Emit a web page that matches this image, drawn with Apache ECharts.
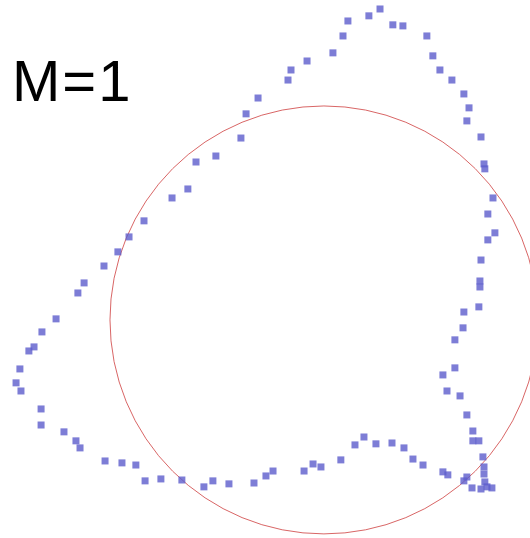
<!DOCTYPE html>
<html>
<head>
<meta charset="utf-8">
<style>
  html, body { margin: 0; padding: 0; background: #ffffff; }
  #chart { width: 530px; height: 538px; }
</style>
<script src="https://cdn.jsdelivr.net/npm/echarts@6/dist/echarts.min.js"></script>
</head>
<body>
<div id="chart"></div>
<script>
// Sampled points of the M=1 curve, in units of the reference circle's radius.
const pointX = [
  -1.416, -1.439, -1.421, -1.379, -1.355, -1.318, -1.252, -1.150, -1.121, -1.028,
  -0.963, -0.911, -0.841, -0.710, -0.636, -0.598, -0.505, -0.388, -0.364, -0.308,
  -0.168, -0.154, -0.079, 0.042, 0.089, 0.112, 0.210, 0.262, 0.322, 0.369,
  0.481, 0.509, 0.542, 0.598, 0.654, 0.678, 0.668, 0.734, 0.748, 0.752,
  0.790, 0.766, 0.799, 0.766, 0.734, 0.729, 0.729, 0.724, 0.654, 0.650,
  0.612, 0.612, 0.556, 0.575, 0.636, 0.668, 0.696, 0.696, 0.724, 0.743,
  0.748, 0.748, 0.752, 0.762, 0.785, 0.734, 0.692, 0.654, 0.668, 0.579,
  0.556, 0.463, 0.416, 0.374, 0.318, 0.243, 0.187, 0.145, 0.079, -0.014,
  -0.051, -0.093, -0.238, -0.271, -0.327, -0.444, -0.519, -0.561, -0.664, -0.762,
  -0.836, -0.879, -0.944, -1.023, -1.140, -1.159, -1.215, -1.322, -1.322
];
const pointY = [
  -0.332, -0.294, -0.229, -0.145, -0.126, -0.056, 0.005, 0.126, 0.173, 0.252,
  0.318, 0.388, 0.463, 0.570, 0.612, 0.738, 0.766, 0.850, 0.963, 1.037,
  1.121, 1.168, 1.210, 1.248, 1.327, 1.397, 1.421, 1.453, 1.379, 1.374,
  1.327, 1.234, 1.168, 1.121, 1.056, 0.991, 0.930, 0.855, 0.729, 0.706,
  0.570, 0.495, 0.407, 0.374, 0.280, 0.182, 0.154, 0.061, 0.037, -0.037,
  -0.093, -0.224, -0.257, -0.332, -0.355, -0.444, -0.519, -0.565, -0.565, -0.640,
  -0.687, -0.720, -0.757, -0.780, -0.785, -0.790, -0.785, -0.752, -0.734, -0.724,
  -0.710, -0.678, -0.650, -0.598, -0.575, -0.579, -0.547, -0.584, -0.654, -0.687,
  -0.673, -0.706, -0.706, -0.729, -0.762, -0.766, -0.752, -0.780, -0.748, -0.743,
  -0.752, -0.678, -0.668, -0.659, -0.598, -0.565, -0.523, -0.491, -0.416
];

// Reference circle: centre and radius
const circleCenter = [0, 0];
const circleRadius = 1;

// Visible window of the plane
const xRange = [-1.514, 0.963];
const yRange = [-1.019, 1.495];

const titleParts = ['M', '=', '1'];

const points = pointX.map((x, i) => [x, pointY[i]]);

const chart = echarts.init(document.getElementById('chart'), null, { renderer: 'canvas' });

const titleFont = '58px "Liberation Sans", Arial, sans-serif';

chart.setOption({
  animation: false,
  backgroundColor: '#ffffff',
  grid: { left: 0, right: 0, top: 0, bottom: 0, containLabel: false },
  xAxis: {
    type: 'value', min: xRange[0], max: xRange[1], show: false,
    splitLine: { show: false }
  },
  yAxis: {
    type: 'value', min: yRange[0], max: yRange[1], show: false,
    splitLine: { show: false }
  },
  graphic: [{
    type: 'text',
    left: 12,
    top: 56,
    style: {
      text: '{g|' + titleParts[0] + '}{op|' + titleParts[1] + '}{g|' + titleParts[2] + '}',
      rich: {
        g: { font: titleFont, fill: '#000000' },
        op: { font: titleFont, fill: '#000000', padding: [0, 2, 0, 2] }
      }
    }
  }],
  series: [
    {
      type: 'custom',
      clip: true,
      data: [[circleCenter[0], circleCenter[1], circleRadius]],
      renderItem: function (params, api) {
        const c = api.coord([api.value(0), api.value(1)]);
        const e = api.coord([api.value(0) + api.value(2), api.value(1)]);
        return {
          type: 'circle',
          shape: { cx: c[0], cy: c[1], r: e[0] - c[0] },
          style: { fill: null, stroke: '#d96666', lineWidth: 1 }
        };
      },
      z: 1
    },
    {
      type: 'scatter',
      data: points,
      symbol: 'rect',
      symbolSize: 7,
      itemStyle: { color: '#5c5ccc' },
      z: 2
    }
  ]
});
</script>
</body>
</html>
